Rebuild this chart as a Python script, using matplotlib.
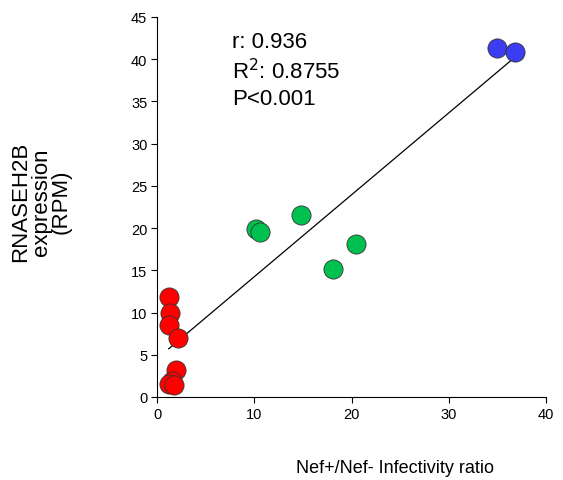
import numpy as np
import matplotlib.pyplot as plt

plt.rcParams['font.family'] = ['Liberation Sans', 'DejaVu Sans']

# red group
red_x = [1.25, 1.3, 1.2, 2.15, 1.95, 1.5, 1.2, 1.7]
red_y = [11.8, 10.0, 8.5, 7.0, 3.2, 1.9, 1.5, 1.4]
# green group
green_x = [10.2, 10.6, 14.8, 20.5, 18.1]
green_y = [19.9, 19.5, 21.6, 18.1, 15.2]
# blue group
blue_x = [35.0, 36.8]
blue_y = [41.3, 40.8]

stats_text = "r: 0.936\nR$^2$: 0.8755\nP<0.001"

fig = plt.figure(figsize=(5.63, 4.81), dpi=100)
ax = fig.add_axes([0.279, 0.1726, 0.691, 0.79])

all_x = np.array(red_x + green_x + blue_x)
all_y = np.array(red_y + green_y + blue_y)
slope, icpt = np.polyfit(all_x, all_y, 1)
xs = np.array([all_x.min(), all_x.max()])
ax.plot(xs, slope * xs + icpt, color='black', lw=0.9, zorder=1)

for xx, yy, c in [(red_x, red_y, '#ff0000'), (green_x, green_y, '#00c050'),
                  (blue_x, blue_y, '#3c3cf0')]:
    ax.scatter(xx, yy, s=190, color=c, edgecolor='#333333', linewidth=0.6, zorder=3)

ax.set_xlim(0, 40)
ax.set_ylim(0, 45)
ax.set_xticks(range(0, 41, 10))
ax.set_yticks(range(0, 46, 5))
ax.tick_params(labelsize=10.5, direction='out', length=4.5, width=0.8, pad=2.5)
ax.spines['top'].set_visible(False)
ax.spines['right'].set_visible(False)

ax.text(7.7, 43.4, stats_text, fontsize=16, va='top', ha='left', linespacing=1.3)

fig.text(0.073, 0.58, "RNASEH2B\nexpression\n(RPM)", rotation=90, fontsize=16,
         ha='center', va='center', linespacing=0.95)
fig.text(0.702, 0.027, "Nef+/Nef- Infectivity ratio", fontsize=13, ha='center', va='center')

fig.savefig('out.png', dpi=100)
